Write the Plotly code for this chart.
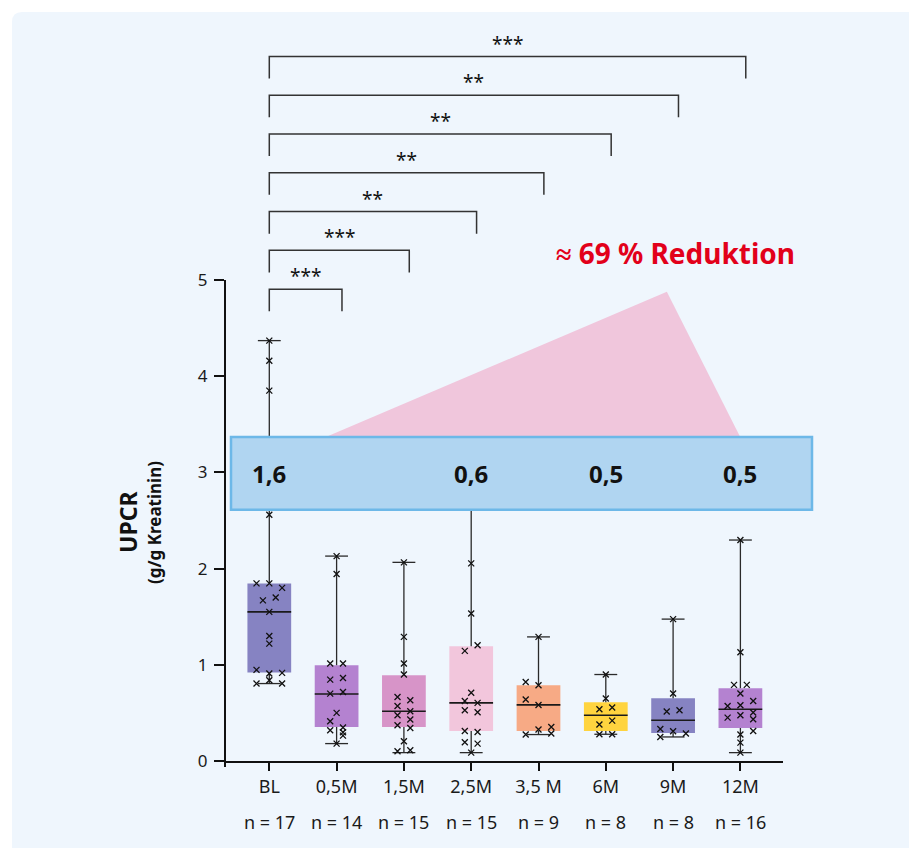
import plotly.graph_objects as go

# ---------------- data ----------------
categories = ["BL", "0,5M", "1,5M", "2,5M", "3,5 M", "6M", "9M", "12M"]
n_labels = ["n = 17", "n = 14", "n = 15", "n = 15", "n = 9", "n = 8", "n = 8", "n = 16"]
box_colors = ["#8683C2", "#B482D0", "#D794C8", "#F2C6DC", "#F7AA85", "#FFD43F", "#8683C2", "#B482D0"]

q1 = [0.920, 0.354, 0.354, 0.312, 0.312, 0.312, 0.291, 0.343]
median = [1.550, 0.697, 0.517, 0.604, 0.583, 0.476, 0.424, 0.538]
q3 = [1.846, 0.996, 0.892, 1.194, 0.788, 0.611, 0.652, 0.757]
lower = [0.805, 0.181, 0.087, 0.087, 0.275, 0.278, 0.250, 0.087]
upper = [4.370, 2.130, 2.065, 2.900, 1.290, 0.899, 1.475, 2.297]

# individual values per time point (slot = horizontal jitter slot)
vals_bl = [4.37, 4.16, 3.85, 2.56, 1.846, 1.846, 1.80, 1.67, 1.70, 1.55, 1.30, 1.22, 0.947, 0.91, 0.916, 0.84, 0.805, 0.805]
slot_bl = [0, 0, 0, 0, -2, 0, 2, -1, 1, 0, 0, 0, -2, 0, 2, 0, -2, 2]
vals_05 = [2.13, 1.943, 1.013, 1.013, 0.846, 0.863, 0.70, 0.718, 0.50, 0.413, 0.348, 0.32, 0.299, 0.264, 0.181]
slot_05 = [0, 0, -1, 1, -1, 1, -1, 1, 0, -1, 1, -1, 1, 1, 0]
vals_15 = [2.065, 1.29, 1.013, 0.899, 0.666, 0.632, 0.572, 0.517, 0.476, 0.431, 0.372, 0.343, 0.205, 0.101, 0.111]
slot_15 = [0, 0, 0, 0, -1, 1, -1, 1, -1, 1, -1, 1, 0, -1, 1]
vals_25 = [2.90, 2.054, 1.534, 1.145, 1.204, 0.71, 0.624, 0.604, 0.528, 0.507, 0.312, 0.302, 0.195, 0.181, 0.087]
slot_25 = [0, 0, 0, -1, 1, 0, -1, 1, -1, 1, -1, 1, -1, 1, 0]
vals_35 = [1.29, 0.822, 0.788, 0.639, 0.583, 0.327, 0.354, 0.285, 0.275]
slot_35 = [0, -2, 0, -2, 0, 0, 2, 2, -2]
vals_6 = [0.899, 0.649, 0.538, 0.556, 0.379, 0.42, 0.278, 0.278]
slot_6 = [0, 0, -1, 1, -1, 1, -1, 1]
vals_9 = [1.475, 0.701, 0.514, 0.528, 0.333, 0.309, 0.285, 0.25]
slot_9 = [0, 0, -1, 1, -2, 0, 2, -2]
vals_12 = [2.297, 1.131, 0.791, 0.791, 0.701, 0.624, 0.572, 0.58, 0.476, 0.451, 0.504, 0.434, 0.312, 0.275, 0.191, 0.087]
slot_12 = [0, 0, -1, 1, 0, 2, -2, 0, 0, -2, 2, 2, 2, 0, 0, 0]

all_vals = [vals_bl, vals_05, vals_15, vals_25, vals_35, vals_6, vals_9, vals_12]
all_slots = [slot_bl, slot_05, slot_15, slot_25, slot_35, slot_6, slot_9, slot_12]

# medians highlighted in the band
band_categories = ["BL", "2,5M", "6M", "12M"]
band_labels = ["1,6", "0,6", "0,5", "0,5"]

# significance brackets (from baseline), top to bottom
comp_from = ["BL"] * 7
comp_to = ["12M", "9M", "6M", "3,5 M", "2,5M", "1,5M", "0,5M"]
comp_stars = ["***", "**", "**", "**", "**", "***", "***"]

reduction_text = "≈ 69 % Reduktion"
y_title = "UPCR"
y_subtitle = "(g/g Kreatinin)"
y_ticks = [0, 1, 2, 3, 4, 5]

# ---------------- layout geometry ----------------
OFF = 8                      # page body margin of the html page
W, H = 917 - OFF, 848 - OFF
PLOT_L_PAGE, PLOT_R_PAGE = 225, 783
PLOT_T_PAGE, PLOT_B_PAGE = 8, 761
L = PLOT_L_PAGE - OFF
R = W - (PLOT_R_PAGE - OFF)
T = PLOT_T_PAGE - OFF
B = H - (PLOT_B_PAGE - OFF)
PW, PH = W - L - R, H - T - B
PX_PER_UNIT = 96.2
YMAX = PH / PX_PER_UNIT
CAT_PX = 67.3
XMIN = -(269.3 - PLOT_L_PAGE) / CAT_PX
XMAX = XMIN + PW / CAT_PX

def px_x(px):
    """page pixel x -> paper x"""
    return (px - PLOT_L_PAGE) / PW

def px_y(py):
    """page pixel y -> paper y"""
    return (PLOT_B_PAGE - py) / PH

def py_data(py):
    return (PLOT_B_PAGE - py) / PX_PER_UNIT

xpos = list(range(len(categories)))
idx = {c: i for i, c in enumerate(categories)}
BOX_W = 0.65
CAP_HW = 0.17
SLOT_W = 0.095
FONT = "Noto Sans"
TXT = "#1a1a1a"

fig = go.Figure()

# boxes
fig.add_trace(go.Bar(
    x=xpos, y=[b - a for a, b in zip(q1, q3)], base=q1, width=BOX_W,
    marker=dict(color=box_colors, line=dict(width=0)), hoverinfo="skip"))

# whiskers + caps
wx, wy = [], []
for i in xpos:
    wx += [i, i, None, i, i, None, i - CAP_HW, i + CAP_HW, None, i - CAP_HW, i + CAP_HW, None]
    wy += [q3[i], upper[i], None, q1[i], lower[i], None, upper[i], upper[i], None, lower[i], lower[i], None]
fig.add_trace(go.Scatter(x=wx, y=wy, mode="lines", line=dict(color="#2a2a2a", width=1.3),
                         hoverinfo="skip"))

# medians
mx, my = [], []
for i in xpos:
    mx += [i - BOX_W / 2, i + BOX_W / 2, None]
    my += [median[i], median[i], None]
fig.add_trace(go.Scatter(x=mx, y=my, mode="lines", line=dict(color="#1a1a1a", width=1.6),
                         hoverinfo="skip"))

# individual points
px_, py_ = [], []
for i in xpos:
    for v, s in zip(all_vals[i], all_slots[i]):
        px_.append(i + s * SLOT_W)
        py_.append(v)
fig.add_trace(go.Scatter(x=px_, y=py_, mode="markers",
                         marker=dict(symbol="x-thin", size=6, line=dict(color="#111", width=1.3)),
                         hoverinfo="skip"))

shapes = []
# background panel with rounded top-left corner
rr = 10
x0p, y0p = 12, 12
xr, yb = 917, 848
path = (f"M {px_x(x0p)},{px_y(yb)} L {px_x(x0p)},{px_y(y0p + rr)} "
        f"Q {px_x(x0p)},{px_y(y0p)} {px_x(x0p + rr)},{px_y(y0p)} "
        f"L {px_x(xr)},{px_y(y0p)} L {px_x(xr)},{px_y(yb)} Z")
shapes.append(dict(type="path", path=path, xref="paper", yref="paper",
                   fillcolor="#EFF6FD", line=dict(width=0), layer="below"))

# reduction triangle
tri = "M 0.84,3.368 L 5.907,4.877 L 6.997,3.368 Z"
shapes.append(dict(type="path", path=tri, xref="x", yref="y",
                   fillcolor="#F0C6DC", line=dict(width=0), layer="below"))

# highlighted band
shapes.append(dict(type="rect", xref="paper", yref="y",
                   x0=px_x(231), x1=px_x(812), y0=2.613, y1=3.368,
                   fillcolor="#B0D5F1", line=dict(color="#6DB8E8", width=2.5), layer="above"))

# y axis line
shapes.append(dict(type="line", xref="paper", yref="paper", x0=0, x1=0,
                   y0=px_y(767), y1=px_y(280), line=dict(color="#111", width=2)))

# brackets
BR_BASE, BR_STEP, BR_DROP = 4.905, 0.403, 0.229
annotations = []
n_comp = len(comp_to)
for k in range(n_comp):
    level = BR_BASE + (n_comp - 1 - k) * BR_STEP
    a = idx[comp_from[k]]
    b = idx[comp_to[k]] + 0.08
    shapes.append(dict(type="path", xref="x", yref="y",
                       path=f"M {a},{level - BR_DROP} L {a},{level} L {b},{level} L {b},{level - BR_DROP}",
                       line=dict(color="#333", width=1.5), layer="above"))
    annotations.append(dict(x=(a + b) / 2, y=level, xref="x", yref="y", text=comp_stars[k],
                            showarrow=False, xanchor="center", yanchor="bottom", yshift=-2,
                            font=dict(family=FONT, size=19, color="#111")))

# band labels
for c, t in zip(band_categories, band_labels):
    annotations.append(dict(x=idx[c], y=2.99, xref="x", yref="y", text=f"<b>{t}</b>",
                            showarrow=False, xanchor="center", yanchor="middle",
                            font=dict(family=FONT, size=24, color="#111")))

# reduction text
annotations.append(dict(x=px_x(675), y=py_data(253), xref="paper", yref="y",
                        text=f"<b>{reduction_text}</b>", showarrow=False,
                        xanchor="center", yanchor="middle",
                        font=dict(family=FONT, size=28, color="#E2001A")))

# n labels
for i, t in zip(xpos, n_labels):
    annotations.append(dict(x=i, y=px_y(822), xref="x", yref="paper", text=t,
                            showarrow=False, xanchor="center", yanchor="middle",
                            font=dict(family=FONT, size=18, color=TXT)))

# y title (two separate lines)
annotations.append(dict(x=px_x(128), y=px_y(522), xref="paper", yref="paper",
                        text=f"<b>{y_title}</b>", textangle=-90, showarrow=False,
                        xanchor="center", yanchor="middle",
                        font=dict(family=FONT, size=23, color="#111")))
annotations.append(dict(x=px_x(154), y=px_y(523), xref="paper", yref="paper",
                        text=f"<b>{y_subtitle}</b>", textangle=-90, showarrow=False,
                        xanchor="center", yanchor="middle",
                        font=dict(family=FONT, size=17, color="#111")))

fig.update_layout(
    width=W, height=H,
    margin=dict(l=L, r=R, t=T, b=B, pad=0),
    paper_bgcolor="white", plot_bgcolor="rgba(0,0,0,0)",
    showlegend=False, hovermode=False,
    shapes=shapes, annotations=annotations,
    xaxis=dict(range=[XMIN, XMAX], tickmode="array", tickvals=xpos, ticktext=categories,
               showgrid=False, zeroline=False, showline=True, linecolor="#111", linewidth=2,
               ticks="outside", ticklen=8, tickwidth=2, tickcolor="#111",
               tickfont=dict(family=FONT, size=18, color=TXT)),
    yaxis=dict(range=[0, YMAX], tickmode="array", tickvals=y_ticks,
               showgrid=False, zeroline=False, showline=False,
               ticks="outside", ticklen=10, tickwidth=2, tickcolor="#111",
               ticklabelstandoff=3,
               tickfont=dict(family=FONT, size=17, color=TXT)),
)

fig.write_html("out.html")
